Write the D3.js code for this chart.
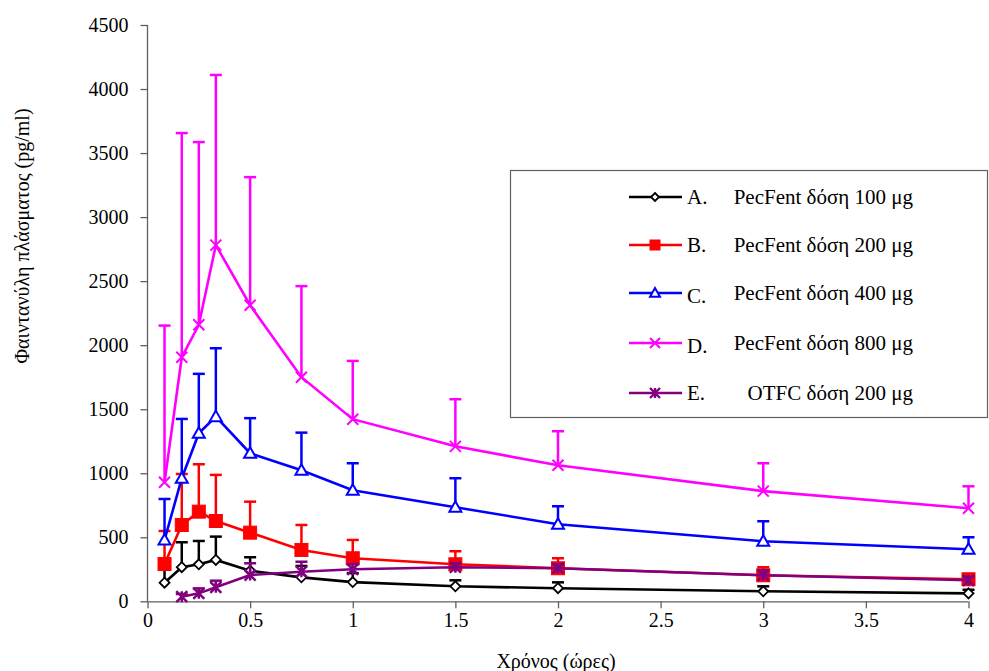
<!DOCTYPE html>
<html>
<head>
<meta charset="utf-8">
<script src="https://cdn.jsdelivr.net/npm/d3@7"></script>
</head>
<body style="margin:0;background:#fff">
<svg width="989" height="671"></svg>
<script>
// data
var times = [0.083, 0.167, 0.25, 0.333, 0.5, 0.75, 1, 1.5, 2, 3, 4];

var meanA = [145, 266, 289, 323, 239, 187, 150, 117, 102, 78, 62];
var upA   = [300, 461, 471, 505, 344, 276, 220, 164, 148, 117, 90];

var meanB = [291, 596, 700, 627, 536, 401, 336, 289, 258, 203, 172];
var upB   = [549, 994, 1070, 987, 778, 596, 479, 391, 336, 266, 200];

var meanC = [479, 961, 1312, 1442, 1156, 1023, 867, 734, 602, 469, 406];
var upC   = [799, 1424, 1776, 1976, 1430, 1317, 1078, 961, 742, 625, 500];

var meanD = [930, 1906, 2159, 2781, 2312, 1750, 1422, 1210, 1062, 860, 727];
var upD   = [2153, 3656, 3586, 4110, 3312, 2461, 1877, 1578, 1328, 1078, 898];

var timesE = [0.167, 0.25, 0.333, 0.5, 0.75, 1, 1.5, 2, 3, 4];
var meanE = [36, 62, 109, 205, 231, 250, 266, 258, 203, 164];
var upE   = [57, 101, 161, 297, 309, 291, 297, 290, 242, 190];

var seriesNames = ["A.", "B.", "C.", "D.", "E."];
var seriesLabels = ["PecFent δόση 100 μg", "PecFent δόση 200 μg", "PecFent δόση 400 μg",
                    "PecFent δόση 800 μg", "OTFC δόση 200 μg"];
var seriesColors = ["#000000", "#ff0000", "#0000ff", "#ff00ff", "#800080"];
var seriesMarkers = ["diamond", "square", "triangle", "cross", "star"];

var xTicks = [0, 0.5, 1, 1.5, 2, 2.5, 3, 3.5, 4];
var yTicks = [0, 500, 1000, 1500, 2000, 2500, 3000, 3500, 4000, 4500];

var series = [
  { x: times, y: meanA, up: upA },
  { x: times, y: meanB, up: upB },
  { x: times, y: meanC, up: upC },
  { x: times, y: meanD, up: upD },
  { x: timesE, y: meanE, up: upE }
].map(function(s, i) {
  return {
    name: seriesNames[i], label: seriesLabels[i], color: seriesColors[i], marker: seriesMarkers[i],
    points: s.x.map(function(t, j) { return { t: t, v: s.y[j], up: s.up[j] }; })
  };
});

// presets
var FONT = "Liberation Serif";
var svg = d3.select("svg").style("font-family", FONT);
var margin = { top: 25, left: 147.5 },
  width = 968.5 - margin.left,
  height = 601.3 - margin.top;

var x = d3.scaleLinear().domain([0, 4]).range([0, width]);
var y = d3.scaleLinear().domain([0, 4500]).range([height, 0]);

var g = svg.append("g")
  .attr("transform", "translate(" + margin.left + "," + margin.top + ")");

// axes
var axisColor = "#606060";
var xAxis = g.append("g")
  .attr("transform", "translate(0," + height + ")")
  .call(d3.axisBottom(x).tickValues(xTicks).tickSize(7).tickPadding(5)
    .tickFormat(function(d) { return String(d); }));
var yAxis = g.append("g")
  .call(d3.axisLeft(y).tickValues(yTicks).tickSize(7).tickPadding(12).tickFormat(d3.format("d")));

[xAxis, yAxis].forEach(function(ax) {
  ax.attr("font-family", FONT).attr("font-size", 20);
  ax.select(".domain").attr("stroke", axisColor).attr("stroke-width", 1.3);
  ax.selectAll(".tick line").attr("stroke", axisColor).attr("stroke-width", 1.3);
  ax.selectAll(".tick text").style("font-family", FONT).style("font-size", "20px").attr("fill", "#000");
});
xAxis.select(".domain").attr("d", "M0,0.5H" + width);
yAxis.select(".domain").attr("d", "M0," + height + "V0");

svg.append("text")
  .attr("x", margin.left + x(2) - 2)
  .attr("y", 668)
  .attr("text-anchor", "middle")
  .style("font-family", FONT).style("font-size", "20px")
  .text("Χρόνος (ώρες)");

svg.append("text")
  .attr("transform", "translate(29," + 236 + ") rotate(-90)")
  .attr("text-anchor", "middle")
  .style("font-family", FONT).style("font-size", "20px")
  .text("Φαιντανύλη πλάσματος (pg/ml)");

// markers
function drawMarker(sel, type, color, size) {
  var h = size / 2;
  if (type === "diamond") {
    sel.append("path").attr("d", "M0," + (-h) + "L" + h + ",0L0," + h + "L" + (-h) + ",0Z")
      .attr("fill", "#fff").attr("stroke", color).attr("stroke-width", 1.8);
  } else if (type === "square") {
    sel.append("rect").attr("x", -h).attr("y", -h).attr("width", size).attr("height", size)
      .attr("fill", color).attr("stroke", color).attr("stroke-width", 1);
  } else if (type === "triangle") {
    sel.append("path").attr("d", "M0," + (-h) + "L" + h + "," + (h * 0.75) + "L" + (-h) + "," + (h * 0.75) + "Z")
      .attr("fill", "#fff").attr("stroke", color).attr("stroke-width", 2);
  } else if (type === "cross") {
    sel.append("path").attr("d", "M" + (-h) + "," + (-h) + "L" + h + "," + h + "M" + h + "," + (-h) + "L" + (-h) + "," + h)
      .attr("stroke", color).attr("stroke-width", 2);
  } else if (type === "star") {
    sel.append("path").attr("d", "M" + (-h) + "," + (-h) + "L" + h + "," + h + "M" + h + "," + (-h) + "L" + (-h) + "," + h +
      "M0," + (-h) + "V" + h)
      .attr("stroke", color).attr("stroke-width", 2.4).attr("fill", "none");
  }
}

var markerSize = { diamond: 10, square: 13, triangle: 12, cross: 11, star: 11 };

var line = d3.line()
  .x(function(d) { return x(d.t); })
  .y(function(d) { return y(d.v); });

series.forEach(function(s) {
  var sg = g.append("g");
  // upper error bars
  var eb = sg.selectAll(".err").data(s.points).enter().append("g");
  eb.append("line")
    .attr("x1", function(d) { return x(d.t); })
    .attr("x2", function(d) { return x(d.t); })
    .attr("y1", function(d) { return y(d.v); })
    .attr("y2", function(d) { return y(d.up); })
    .attr("stroke", s.color).attr("stroke-width", 2.5);
  eb.append("line")
    .attr("x1", function(d) { return x(d.t) - 6; })
    .attr("x2", function(d) { return x(d.t) + 6; })
    .attr("y1", function(d) { return y(d.up); })
    .attr("y2", function(d) { return y(d.up); })
    .attr("stroke", s.color).attr("stroke-width", 2.5);

  sg.append("path")
    .datum(s.points)
    .attr("fill", "none")
    .attr("stroke", s.color)
    .attr("stroke-width", 2.6)
    .attr("d", line);

  sg.selectAll(".mk").data(s.points).enter().append("g")
    .attr("transform", function(d) { return "translate(" + x(d.t) + "," + y(d.v) + ")"; })
    .each(function() { drawMarker(d3.select(this), s.marker, s.color, markerSize[s.marker]); });
});

// legend
var legend = svg.append("g");
legend.append("rect")
  .attr("x", 510.5).attr("y", 170.5).attr("width", 477).attr("height", 247)
  .attr("fill", "#fff").attr("stroke", "#606060").attr("stroke-width", 1.2);

var rowY = [197, 245, 293, 343, 393];
series.forEach(function(s, i) {
  var row = legend.append("g").attr("transform", "translate(0," + rowY[i] + ")");
  row.append("line").attr("x1", 629).attr("x2", 682).attr("y1", 0).attr("y2", 0)
    .attr("stroke", s.color).attr("stroke-width", 2.6);
  var m = row.append("g").attr("transform", "translate(655,0)");
  drawMarker(m, s.marker, s.color, s.marker === "diamond" ? 8 : 10);
  row.append("text").attr("x", 687).attr("y", i === 2 || i === 3 ? 10 : 7)
    .style("font-family", FONT).style("font-size", "21px").text(s.name);
  row.append("text").attr("x", 913).attr("y", 7).attr("text-anchor", "end")
    .style("font-family", FONT).style("font-size", "21px").text(s.label);
});
</script>
</body>
</html>
